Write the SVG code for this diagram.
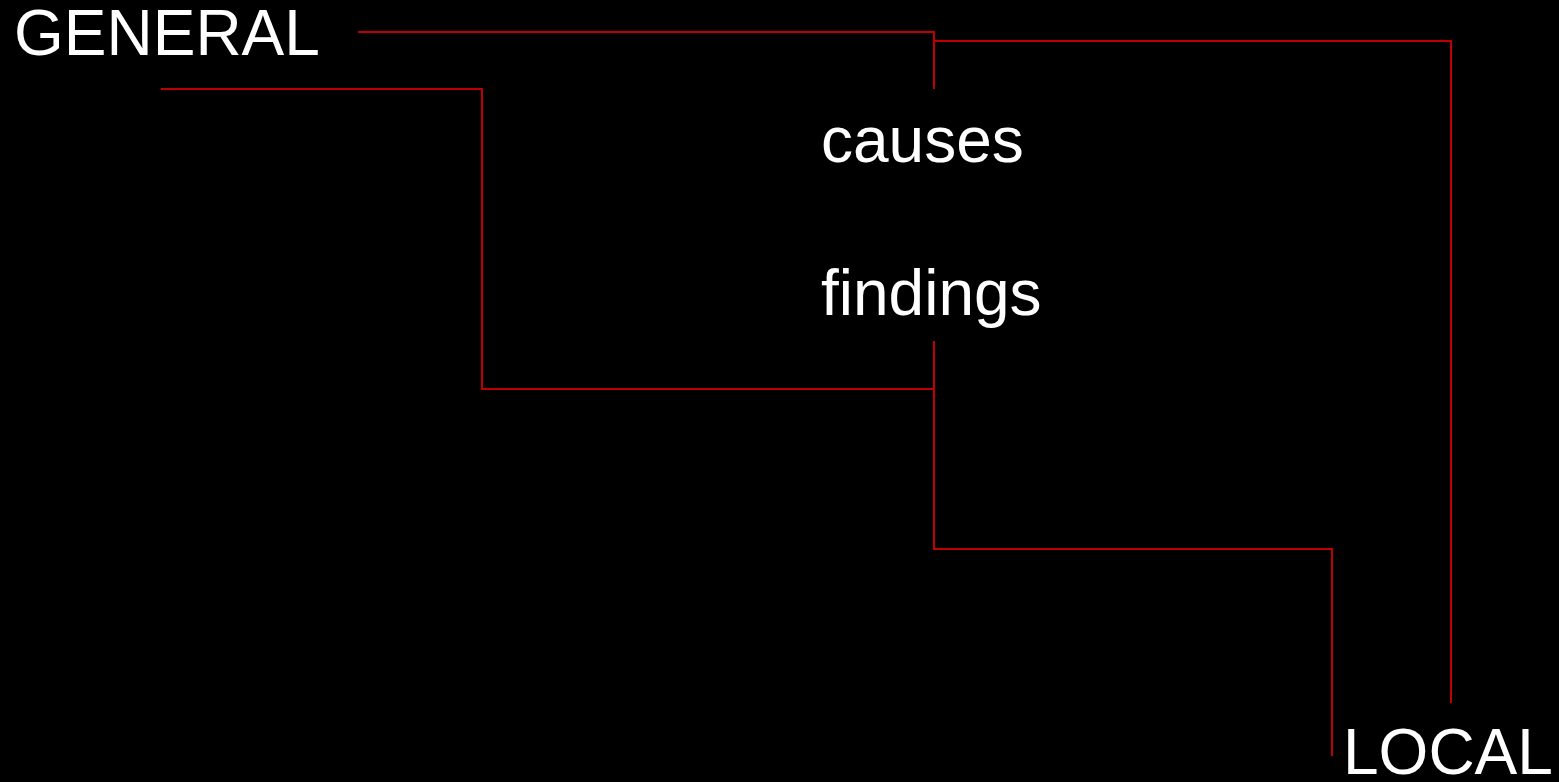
<svg xmlns="http://www.w3.org/2000/svg" width="1559" height="782" viewBox="0 0 1559 782">
<style>
.t{font-family:"Liberation Sans",Arial,sans-serif;font-size:64px;fill:#ffffff}
.c{fill:none;stroke:#c00000;stroke-width:2}
</style>
<rect x="0" y="0" width="1559" height="782" fill="#000000"/>
<g id="connectors">
<polyline class="c" points="358,32 934,32 934,89"/>
<polyline class="c" points="934,41 1451,41 1451,703"/>
<polyline class="c" points="161,89 482,89 482,389 934,389"/>
<polyline class="c" points="934,341 934,549 1332,549 1332,756"/>
</g>
<g id="general"><text class="t" x="14" y="55">GENERAL</text></g>
<g id="causes"><text class="t" x="821" y="162">causes</text></g>
<g id="findings"><text class="t" x="821" y="315">findings</text></g>
<g id="local"><text class="t" x="1343" y="774">LOCAL</text></g>
</svg>
